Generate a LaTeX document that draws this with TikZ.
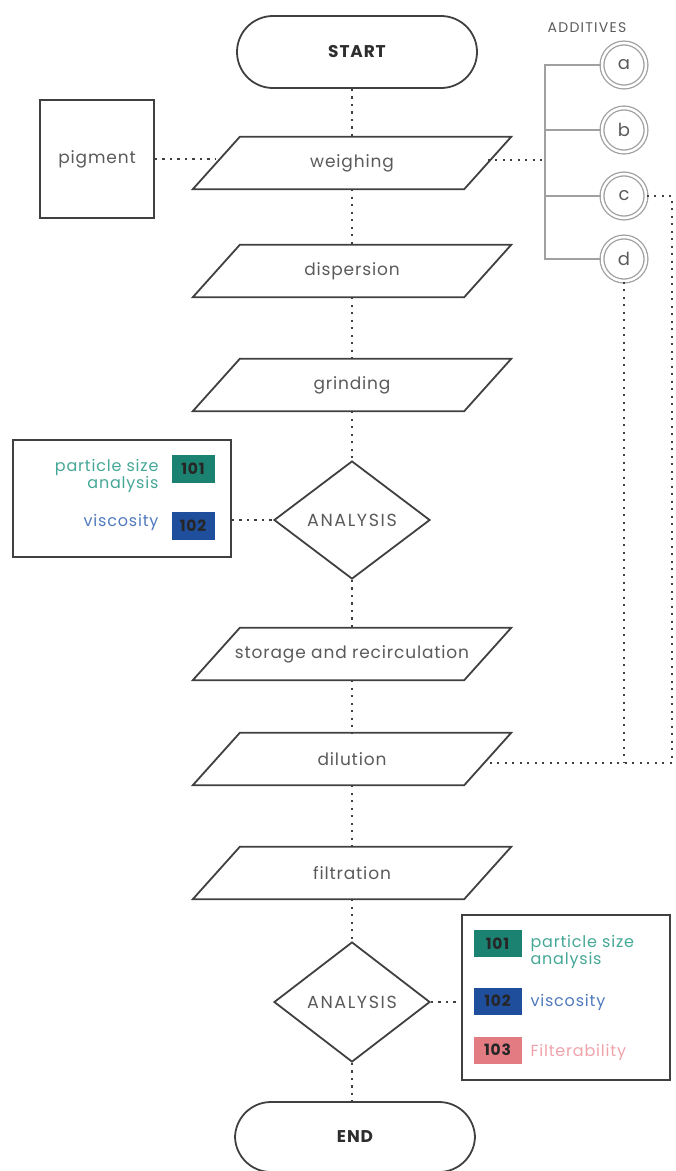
\documentclass[tikz,border=0pt]{standalone}
\usepackage{fontspec}
\setmainfont{Poppins}
\usetikzlibrary{shapes.geometric}
\definecolor{linegray}{HTML}{404040}
\definecolor{txtgray}{HTML}{5A5A5A}
\definecolor{brgray}{HTML}{A0A0A0}
\definecolor{tealbg}{HTML}{1B8272}
\definecolor{tealtx}{HTML}{45A796}
\definecolor{bluebg}{HTML}{1F4E9C}
\definecolor{bluetx}{HTML}{5079BE}
\definecolor{pinkbg}{HTML}{E27B82}
\definecolor{pinktx}{HTML}{EFA2AA}
\newfontfamily\spaced[LetterSpace=5]{Poppins}
\newfontfamily\wide[LetterSpace=9]{Poppins}
\tikzset{
  shapeline/.style={draw=linegray, line width=1.8pt},
  dots/.style={draw=linegray, line width=2.3pt, dash pattern=on 2.2pt off 5.3pt},
  parabox/.style={minimum width=271pt, minimum height=52pt, inner sep=0pt, font=\spaced\fontsize{17}{20}\selectfont, text=txtgray},
  stadium/.style={shapeline, rounded corners=36pt, minimum width=240pt, minimum height=72pt, font=\spaced\bfseries\fontsize{17}{20}\selectfont, text=black!82},
  decision/.style={shapeline, diamond, minimum width=156pt, minimum height=118pt, inner sep=0pt, font=\wide\fontsize{17.5}{20}\selectfont, text=txtgray},
  badge/.style={minimum width=43pt, minimum height=28pt, inner sep=0pt, font=\spaced\bfseries\fontsize{15.5}{17}\selectfont, text=black!85},
  addc/.style={circle, draw=brgray, line width=1.3pt, double=white, double distance=2.5pt, minimum size=44pt, inner sep=0pt, font=\fontsize{18}{20}\selectfont, text=txtgray},
  bracket/.style={draw=brgray, line width=1.6pt},
  frame/.style={draw=linegray, line width=1.8pt},
  boxtext/.style={font=\spaced\fontsize{16}{17}\selectfont}
}
\begin{document}
\begin{tikzpicture}[x=1pt,y=-1pt]
\useasboundingbox (0,0) rectangle (676,1171);
% main column
\node[stadium] (start) at (357,52) {START};
\node[parabox] (w) at (352,163) {weighing};
\node[parabox] (dis) at (352,271) {dispersion};
\node[parabox] (gr) at (352,385) {grinding};
\node[decision] (an1) at (352,520) {ANALYSIS};
\node[parabox] (st) at (352,654) {storage and recirculation};
\node[parabox] (dil) at (352,759) {dilution};
\node[parabox] (fil) at (352,873) {filtration};
\node[decision, minimum height=120pt] (an2) at (352,1002) {ANALYSIS};
\node[stadium, minimum height=70pt] (end) at (355,1137) {END};
\foreach \n in {w,dis,gr,st,dil,fil}
  \draw[shapeline] ([xshift=-23.5pt]\n.south west) -- ([xshift=23.5pt]\n.north west) -- ([xshift=23.5pt]\n.north east) -- ([xshift=-23.5pt]\n.south east) -- cycle;
% pigment
\node[shapeline, minimum width=114pt, minimum height=118pt, font=\spaced\fontsize{17}{20}\selectfont, text=txtgray] (pig) at (97,159) {pigment};
% additives
\node[font=\wide\fontsize{14}{16}\selectfont, text=txtgray] (addl) at (587,28) {ADDITIVES};
\node[addc] (a) at (624,65) {a};
\node[addc] (b) at (624,130) {b};
\node[addc] (c) at (624,196) {c};
\node[addc] (d) at (624,259) {d};
\coordinate (brtop) at (545,65);
\coordinate (brmid) at (545,160);
\draw[bracket] (a.west) -- (brtop) -- (brtop |- d.west) -- (d.west);
\draw[bracket] (b.west) -- (b.west -| brtop);
\draw[bracket] (c.west) -- (c.west -| brtop);
% left analysis box
\node[frame, minimum width=218pt, minimum height=117pt] (lbox) at (122,498.5) {};
\node[badge, fill=tealbg] (l101) at (193,469) {101};
\node[badge, fill=bluebg] (l102) at (193,526) {102};
\node[anchor=east, align=right, text=tealtx, boxtext] (lt1) at (162,476) {particle size\\analysis};
\node[anchor=east, text=bluetx, boxtext] (lt2) at (162,522) {viscosity};
% right analysis box
\node[frame, minimum width=208pt, minimum height=165pt] (rbox) at (566,997.5) {};
\node[badge, fill=tealbg, minimum width=48pt, minimum height=27pt] (r101) at (497.5,943.5) {101};
\node[badge, fill=bluebg, minimum width=48pt, minimum height=27pt] (r102) at (497.5,1001) {102};
\node[badge, fill=pinkbg, minimum width=48pt, minimum height=27pt] (r103) at (497.5,1050) {103};
\node[anchor=west, align=left, text=tealtx, boxtext] (rt1) at (527,952) {particle size\\analysis};
\node[anchor=west, text=bluetx, boxtext] (rt2) at (527,1002) {viscosity};
\node[anchor=west, text=pinktx, boxtext] (rt3) at (527,1052) {Filterability};
% connectors
\draw[dots] (w.north |- start.south) -- (w.north);
\draw[dots] (w.south) -- (dis.north);
\draw[dots] (dis.south) -- (gr.north);
\draw[dots] (gr.south) -- (an1.north);
\draw[dots] (an1.south) -- (st.north);
\draw[dots] (st.south) -- (dil.north);
\draw[dots] (dil.south) -- (fil.north);
\draw[dots] (fil.south) -- (an2.north);
\draw[dots] (an2.south) -- (an2.south |- end.north);
\draw[dots] (pig.east) -- (pig.east -| w.west);
\draw[dots] (w.east |- brmid) -- (brmid);
\draw[dots] (lbox.east |- an1.west) -- (an1.west);
\draw[dots] (an2.east) -- (an2.east -| rbox.west);
\coordinate (cturn) at (672,196);
\coordinate (cdown) at (672,763);
\coordinate (djoin) at (624,763);
\draw[dots] (c.east) -- (cturn) -- (cdown) -- (cdown -| dil.east);
\draw[dots] (d.south) -- (djoin);
\end{tikzpicture}
\end{document}
